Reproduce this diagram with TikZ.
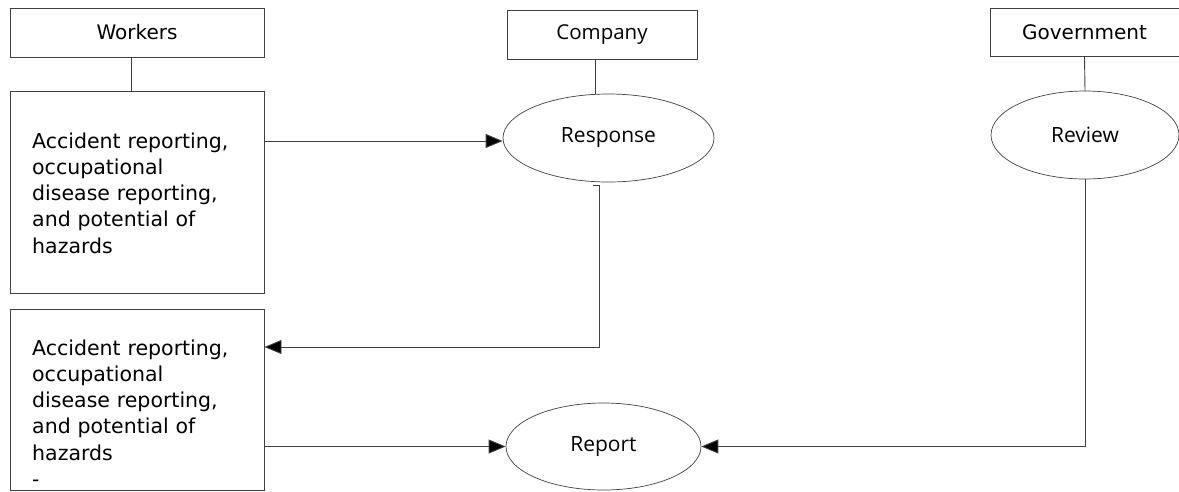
\documentclass[tikz,border=0pt]{standalone}
\usepackage{fontspec}
\setmainfont{DejaVu Sans}
\newfontfamily\ovalfont{Open Sans}
\usetikzlibrary{shapes.geometric,arrows.meta}
\tikzset{
  ln/.style={draw=black!75, line width=0.9pt},
  arr/.style={ln, -{Triangle[length=17pt,width=14pt,fill=black]}},
  boxn/.style={draw=black!75, line width=0.9pt, rectangle, inner sep=0pt},
  ovaln/.style={draw=black!75, line width=0.7pt, ellipse, inner sep=0pt, font=\ovalfont\fontsize{21}{24}\selectfont},
  headtxt/.style={font=\fontsize{20}{24}\selectfont},
  bodytxt/.style={inner sep=0pt, text width=230pt, align=left, font=\fontsize{20.5}{26.3}\selectfont}
}
\begin{document}
\begin{tikzpicture}[x=1pt,y=-1pt]
\useasboundingbox (0,0) rectangle (1179,491);
\clip (0,0) rectangle (1179,491);
% header boxes
\node[boxn, headtxt, minimum width=254pt, minimum height=49pt] (wk) at (137,32.5) {Workers};
\node[boxn, font=\ovalfont\fontsize{20.5}{24}\selectfont, minimum width=190pt, minimum height=49pt] (comp) at (602,34.5) {Company};
\node[boxn, headtxt, minimum width=189pt, minimum height=48pt] (gov) at (1084.5,32) {Government};
% content boxes
\node[boxn, minimum width=254pt, minimum height=202pt] (b1) at (137,192) {};
\node[bodytxt, anchor=base west] (t1) at (32,148) {Accident reporting,\\occupational\\disease reporting,\\and potential of\\hazards};
\node[boxn, minimum width=254pt, minimum height=181pt] (b2) at (137,400) {};
\node[bodytxt, anchor=base west] (t2) at (32,355) {Accident reporting,\\occupational\\disease reporting,\\and potential of\\hazards\\-};
% ellipses
\node[ovaln, minimum width=211pt, minimum height=88pt] (resp) at (608.5,138) {Response};
\node[ovaln, minimum width=188pt, minimum height=88pt] (rev) at (1085,135) {Review};
\node[ovaln, minimum width=195pt, minimum height=87pt] (rep) at (603.5,446.5) {Report};
% vertical links
\draw[ln] ([xshift=-6pt]wk.south) -- ([xshift=-6pt]wk.south |- b1.north);
\draw[ln] ([xshift=-7pt]comp.south) -- ([xshift=-7pt]comp.south |- resp.north);
\draw[ln] (gov.south) -- (rev.north);
% arrows
\draw[arr] (b1.east |- 0,141) -- (resp.west |- 0,141);
\coordinate (c1) at (593,185);
\coordinate (c2) at (599,185);
\draw[arr] (c1) -- (c2) |- (b2.east |- 0,347);
\draw[arr] (b2.east |- rep.west) -- (rep.west);
\draw[arr] (rev.south) |- (rep.east);
\end{tikzpicture}
\end{document}
